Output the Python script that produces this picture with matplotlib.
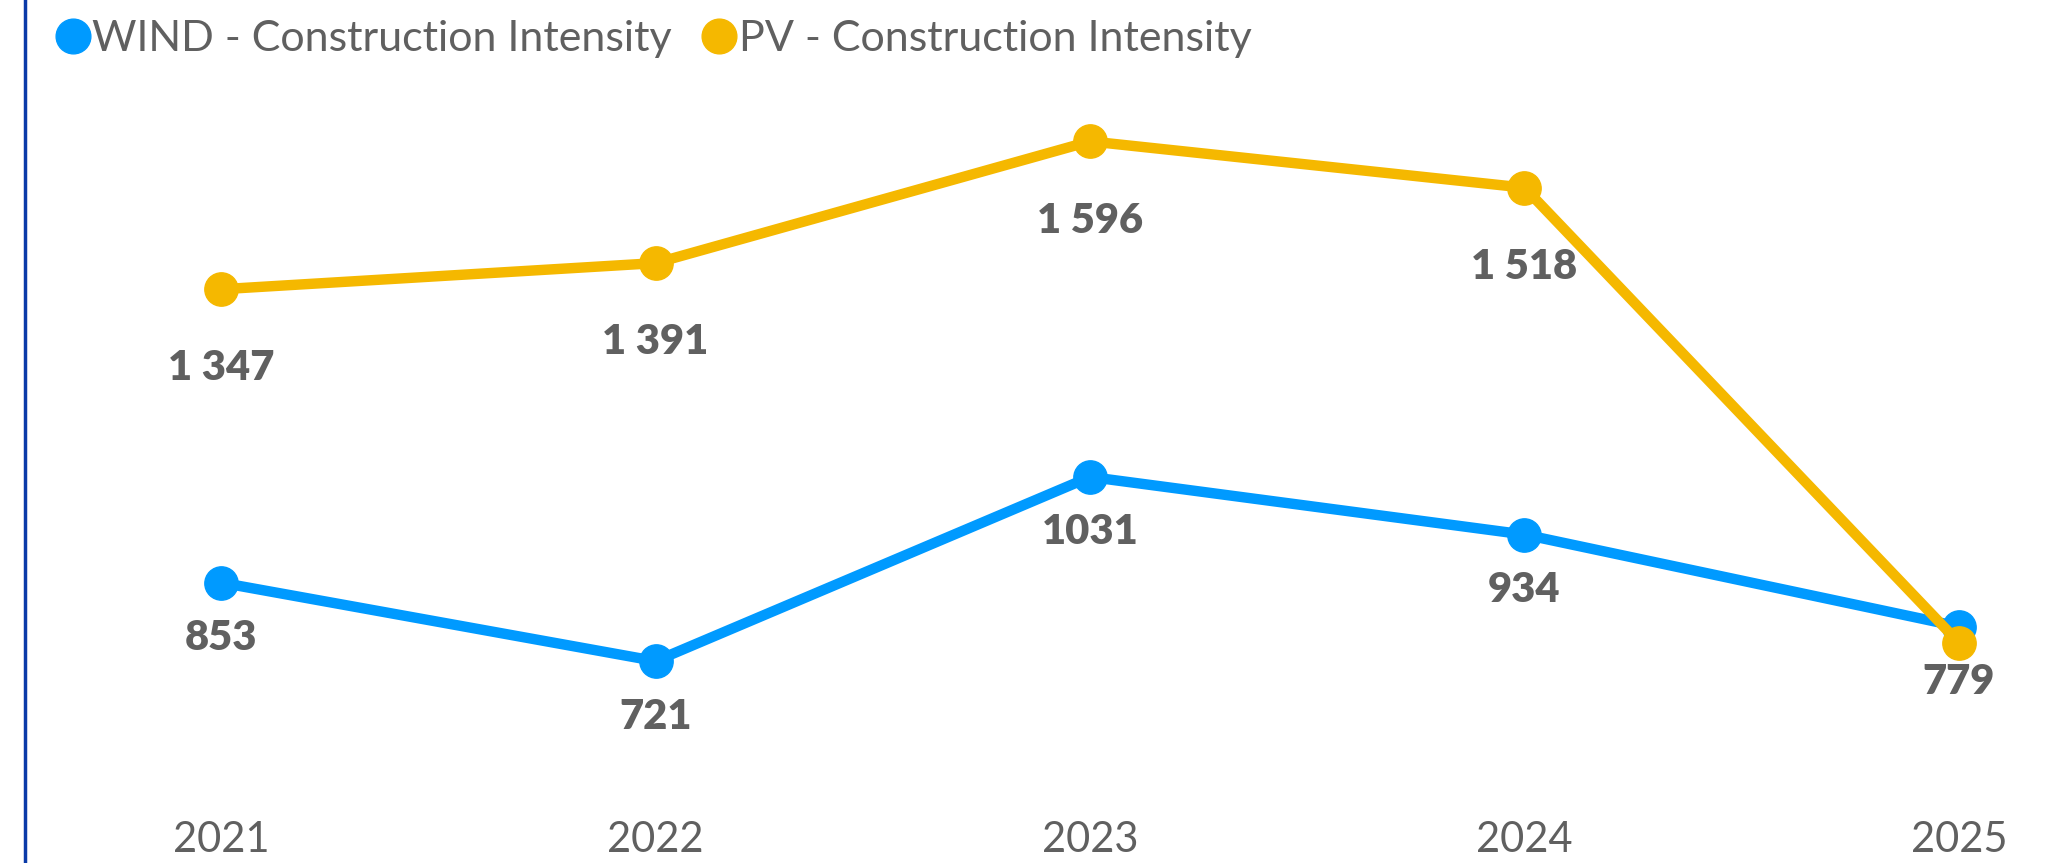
import numpy as np
import matplotlib.pyplot as plt
from matplotlib.lines import Line2D

years = ['2021', '2022', '2023', '2024', '2025']
wind = [853, 721, 1031, 934, 779]
pv = [1347, 1391, 1596, 1518, 752]
wind_labels = ['853', '721', '1031', '934', '779']
pv_labels = ['1 347', '1 391', '1 596', '1 518', None]

wind_color = '#009AFF'
pv_color = '#F5B800'
text_color = '#606060'

plt.rcParams['font.family'] = ['Lato', 'DejaVu Sans']

fig = plt.figure(figsize=(20.48, 8.63), dpi=100)
ax = fig.add_axes([0, 0, 1, 1])

x = np.arange(len(years))
ax.plot(x, wind, color=wind_color, linewidth=7.5, marker='o', markersize=24,
        solid_capstyle='round', zorder=3)
ax.plot(x, pv, color=pv_color, linewidth=7.5, marker='o', markersize=24,
        solid_capstyle='round', zorder=4)

for xi, v, lab in zip(x, wind, wind_labels):
    ax.annotate(lab, (xi, v), xytext=(0, -40), textcoords='offset points',
                ha='center', va='center', fontsize=30, fontweight='heavy',
                color=text_color, zorder=5)
for xi, v, lab in zip(x, pv, pv_labels):
    if lab is None:
        continue
    ax.annotate(lab, (xi, v), xytext=(0, -57), textcoords='offset points',
                ha='center', va='center', fontsize=30, fontweight='heavy',
                color=text_color, zorder=5)

ax.set_xlim(-0.509, 4.205)
ax.set_ylim(381, 1834)
ax.axis('off')

# year labels along the bottom
for xi, yr in zip(x, years):
    ax.text(xi, 0.027, yr, transform=ax.get_xaxis_transform(), ha='center',
            va='center', fontsize=30, color=text_color)

# left border line
fig.add_artist(Line2D([25 / 2048, 25 / 2048], [0, 1], color='#0A3AA8',
                      linewidth=2.5, transform=fig.transFigure))

handles = [
    Line2D([], [], linestyle='none', marker='o', markersize=25, color=wind_color),
    Line2D([], [], linestyle='none', marker='o', markersize=25, color=pv_color),
]
leg = ax.legend(handles, ['WIND - Construction Intensity', 'PV - Construction Intensity'],
                loc='center left', bbox_to_anchor=(0.0125, 0.955), ncol=2, frameon=False,
                fontsize=31, handletextpad=-0.15, columnspacing=0.5, borderpad=0,
                handlelength=1.2)
for t in leg.get_texts():
    t.set_color(text_color)

fig.savefig('out.png', dpi=100)
